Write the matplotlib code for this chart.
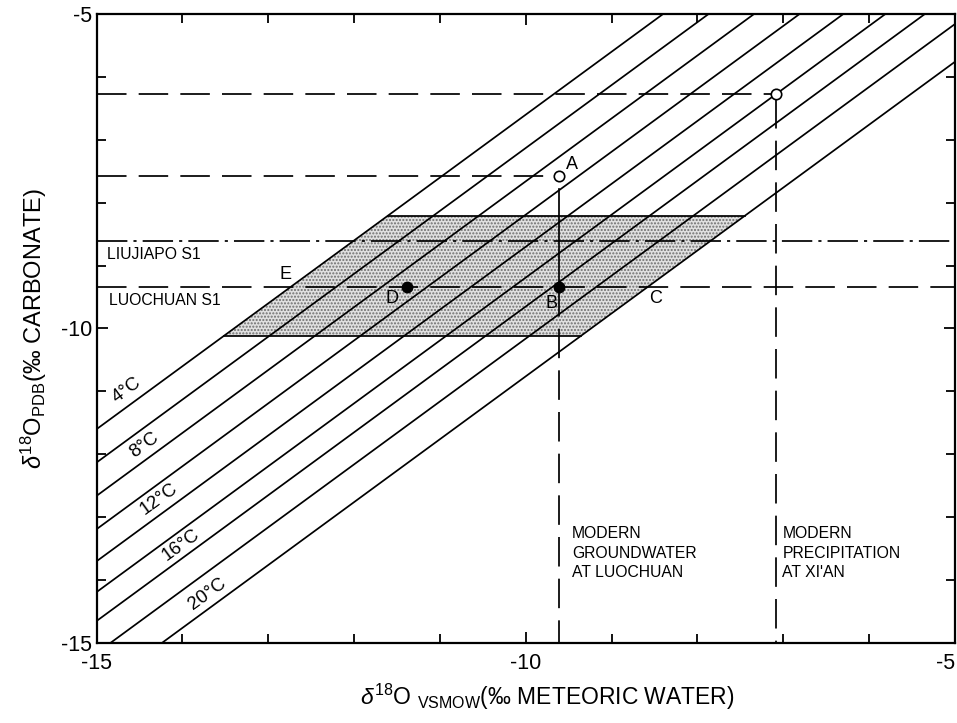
import numpy as np
import matplotlib.pyplot as plt
from matplotlib.patches import Polygon

plt.rcParams['font.family'] = ['Liberation Sans', 'DejaVu Sans']
plt.rcParams['mathtext.fontset'] = 'custom'
plt.rcParams['mathtext.rm'] = 'Liberation Sans'
plt.rcParams['mathtext.it'] = 'Liberation Sans:italic'
plt.rcParams['axes.unicode_minus'] = False

# isotherms: d18O carbonate (PDB) = d18O water (SMOW) + offset
temps = [4, 6, 8, 10, 12, 14, 16, 18, 20]
offsets = [3.40, 2.87, 2.34, 1.81, 1.30, 0.81, 0.35, -0.16, -0.76]
label_temps = [4, 8, 12, 16, 20]
label_xy = [(-14.65, -10.98), (-14.45, -11.85), (-14.27, -12.71), (-14.02, -13.44), (-13.71, -14.22)]

# S1 carbonate range (shaded)
s1_top = -8.21
s1_bottom = -10.12

# horizontal reference levels
liujiapo_y = -8.61
luochuan_y = -9.34
groundwater_x = -9.61
groundwater_c = -7.575
precip_x = -7.08
precip_c = -6.27
point_D = (-11.38, -9.34)

letters = ['A', 'B', 'C', 'D', 'E']
letter_xy = [(-9.46, -7.40), (-9.70, -9.60), (-8.49, -9.52), (-11.56, -9.52), (-12.80, -9.15)]

lw = 1.25
dash = (17, 7)
dashdot = (17.5, 3.5, 1.8, 3.5)

fig = plt.figure(figsize=(9.57, 7.23), dpi=100)
ax = fig.add_axes([0.1010, 0.1107, 0.8969, 0.8700])
ax.set_xlim(-15, -5)
ax.set_ylim(-15, -5)

# shaded parallelogram between 4 and 20 C isotherms
poly = [(s1_bottom - offsets[0], s1_bottom), (s1_top - offsets[0], s1_top),
        (s1_top - offsets[-1], s1_top), (s1_bottom - offsets[-1], s1_bottom)]
ax.add_patch(Polygon(poly, closed=True, facecolor='#e0e0e0', edgecolor='#6e6e6e',
                     linewidth=0, hatch='.....', zorder=1))
ax.plot([poly[0][0], poly[3][0]], [s1_bottom, s1_bottom], color='black', lw=lw, zorder=2)
ax.plot([poly[1][0], poly[2][0]], [s1_top, s1_top], color='black', lw=lw, zorder=2)

# isotherm lines
xx = np.array([-16.0, -4.0])
for off in offsets:
    ax.plot(xx, xx + off, color='black', lw=lw, zorder=3)

for t, (tx, ty) in zip(label_temps, label_xy):
    ax.text(tx, ty, f'{t}°C', rotation=36, ha='center', va='center', fontsize=13.5, zorder=4)

# modern precipitation at Xi'an
ax.plot([-15, precip_x - 0.06], [precip_c, precip_c], color='black', lw=lw, dashes=dash, zorder=3)
ax.plot([precip_x, precip_x], [precip_c - 0.08, -15], color='black', lw=lw, dashes=dash, zorder=3)
ax.plot(precip_x, precip_c, 'o', ms=7.5, mfc='white', mec='black', mew=1.2, zorder=5)

# modern groundwater at Luochuan
ax.plot([-15, groundwater_x - 0.06], [groundwater_c, groundwater_c], color='black', lw=lw, dashes=dash, zorder=3)
ax.plot([groundwater_x, groundwater_x], [-7.78, luochuan_y], color='black', lw=lw, zorder=3)
ax.plot([groundwater_x, groundwater_x], [luochuan_y, -15], color='black', lw=lw, dashes=dash, zorder=3)
ax.plot(groundwater_x, groundwater_c, 'o', ms=7.5, mfc='white', mec='black', mew=1.2, zorder=5)

# S1 levels
ax.plot([-15, -5], [liujiapo_y, liujiapo_y], color='black', lw=lw, dashes=dashdot, zorder=3)
ax.plot([-15, -5], [luochuan_y, luochuan_y], color='black', lw=lw, dashes=dash, zorder=3)
ax.plot(groundwater_x, luochuan_y, 'o', ms=7.5, color='black', zorder=5)
ax.plot(point_D[0], point_D[1], 'o', ms=7.5, color='black', zorder=5)

for s, (lx, ly) in zip(letters, letter_xy):
    ax.text(lx, ly, s, ha='center', va='center', fontsize=13, zorder=6)

ax.text(-14.88, -8.83, 'LIUJIAPO S1', ha='left', va='center', fontsize=11.3, zorder=6)
ax.text(-14.86, -9.55, 'LUOCHUAN S1', ha='left', va='center', fontsize=11.3, zorder=6)
ax.text(-9.46, -13.57, 'MODERN\nGROUNDWATER\nAT LUOCHUAN', ha='left', va='center',
        fontsize=11.3, linespacing=1.4, zorder=6)
ax.text(-7.01, -13.57, "MODERN\nPRECIPITATION\nAT XI'AN", ha='left', va='center',
        fontsize=11.3, linespacing=1.4, zorder=6)

# axes frame and ticks
for sp in ax.spines.values():
    sp.set_linewidth(1.6)
ax.set_xticks([-15, -10, -5])
ax.set_yticks([-15, -10, -5])
ax.set_xticklabels(['-15', '-10', '-5'])
ax.set_yticklabels(['-15', '-10', '-5'])
ax.get_xticklabels()[-1].set_horizontalalignment('right')
ax.set_xticks(np.arange(-14, -5), minor=True)
ax.set_yticks(np.arange(-14, -5), minor=True)
ax.tick_params(which='both', direction='in', top=True, right=True, width=1.3)
ax.tick_params(which='major', length=8, labelsize=15.5)
ax.tick_params(axis='x', which='major', pad=7)
ax.tick_params(axis='y', which='major', pad=3)
ax.tick_params(which='minor', length=6.5)

fig.text(0.5716, 0.036, r'$\delta^{18}$O $_{\mathrm{VSMOW}}$(‰ METEORIC WATER)',
         ha='center', va='center', fontsize=16.5)
fig.text(0.035, 0.545, r'$\delta^{18}$O$_{\mathrm{PDB}}$(‰ CARBONATE)', rotation=90,
         ha='center', va='center', fontsize=17)

fig.savefig('out.png', dpi=100)
